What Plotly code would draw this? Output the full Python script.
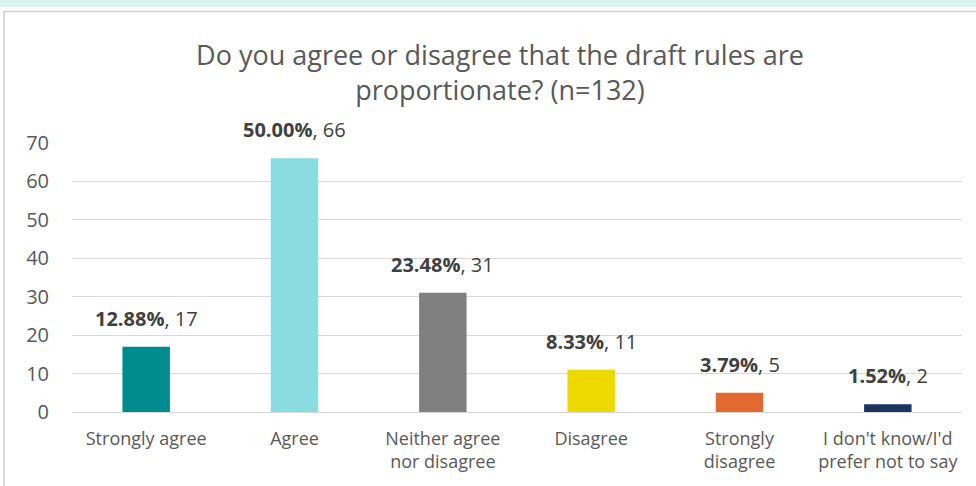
import plotly.graph_objects as go

categories = ["Strongly agree", "Agree", "Neither agree<br>nor disagree", "Disagree",
              "Strongly<br>disagree", "I don't know/I'd<br>prefer not to say"]
counts = [17, 66, 31, 11, 5, 2]
percents = ["12.88%", "50.00%", "23.48%", "8.33%", "3.79%", "1.52%"]
colors = ["#008B8F", "#8ADCE0", "#808080", "#EDD900", "#E2692F", "#1C355E"]
y_ticks = [0, 10, 20, 30, 40, 50, 60, 70]

W, H = 976, 486
ML, MR, MT, MB = 72, 14, 143, 74
pw, ph = W - ML - MR, H - MT - MB
FONT = "Open Sans, Calibri, sans-serif"

def px_x(x):
    return (x - ML) / pw

def px_y(y):
    return (H - MB - y) / ph

fig = go.Figure(go.Bar(
    x=categories, y=counts, marker=dict(color=colors, line=dict(width=0)),
    width=0.32, cliponaxis=False,
))

# value labels above each bar: bold share, then the count
for cat, p, c in zip(categories, percents, counts):
    fig.add_annotation(x=cat, y=c, text=f"<b>{p}</b>, {c}", showarrow=False,
                       yanchor="bottom", yshift=13,
                       font=dict(family=FONT, size=20, color="#404040"))

fig.update_layout(
    width=W, height=H, margin=dict(l=ML, r=MR, t=MT, b=MB),
    paper_bgcolor="white", plot_bgcolor="white", showlegend=False,
    font=dict(family=FONT, color="#595959"),
    title=dict(text="Do you agree or disagree that the draft rules are<br>proportionate? (n=132)",
               x=500 / W, xanchor="center", y=1 - 65 / H, yanchor="middle",
               font=dict(size=27, color="#595959")),
    xaxis=dict(tickfont=dict(size=18, color="#595959"), showline=False, ticks="",
               ticklabelstandoff=14),
    yaxis=dict(range=[0, 70], tickvals=y_ticks, tickfont=dict(size=20, color="#595959"),
               showgrid=True, gridcolor="#D9D9D9", gridwidth=1, zeroline=True,
               zerolinecolor="#D9D9D9", zerolinewidth=1, ticks="", ticklabelstandoff=22),
    shapes=[
        dict(type="rect", xref="paper", yref="paper", x0=px_x(0), x1=px_x(W), y0=px_y(0), y1=px_y(7),
             fillcolor="#DAF3EE", line=dict(width=0), layer="below"),
        dict(type="rect", xref="paper", yref="paper", x0=px_x(4), x1=px_x(W + 10), y0=px_y(H + 10), y1=px_y(11.5),
             fillcolor="rgba(0,0,0,0)", line=dict(color="#D0D0D0", width=1.5), layer="below"),
    ],
)

fig.write_html("out.html")
